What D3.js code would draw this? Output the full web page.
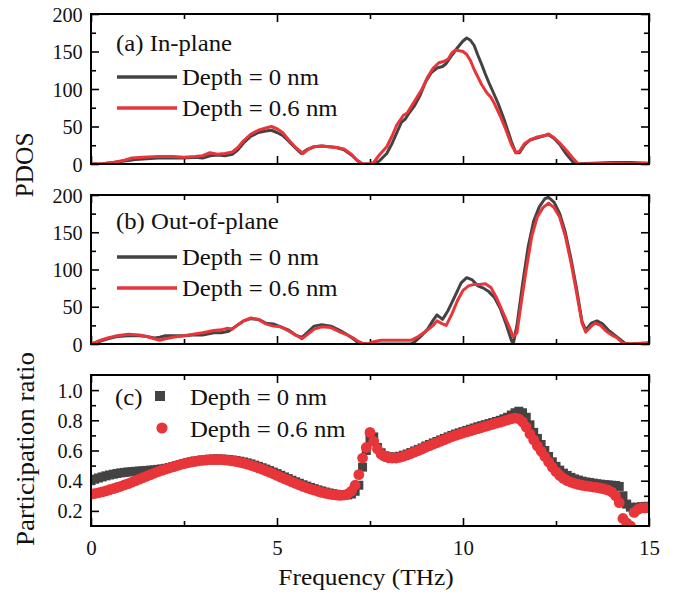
<!DOCTYPE html>
<html>
<head>
<meta charset="utf-8">
<script src="https://cdn.jsdelivr.net/npm/d3@7"></script>
<style>
  body { margin: 0; background: #fff; }
  text { font-family: "Liberation Serif", "Times New Roman", Times, serif; }
</style>
</head>
<body>
<div id="chart"></div>
<script>
// PDOS (a) in-plane: [frequency THz, PDOS]
const inPlane0 = [[0,0],[0.3,0.5],[0.6,2],[0.9,4],[1.2,6],[1.5,7],[1.8,8],[2.2,8],[2.5,8],[2.8,9],[3.0,8],[3.2,11],[3.4,12],[3.6,11],[3.8,13],[3.95,19],[4.1,28],[4.3,37],[4.5,42],[4.7,44],[4.85,45],[5.0,42],[5.15,38],[5.3,31],[5.5,21],[5.65,14],[5.8,19],[6.0,23],[6.2,24],[6.4,23],[6.6,22],[6.8,19],[7.0,12],[7.15,5],[7.3,0],[7.6,0],[7.75,4],[7.95,14],[8.1,28],[8.25,45],[8.35,56],[8.45,60],[8.55,68],[8.7,78],[8.85,92],[9.0,110],[9.15,122],[9.3,128],[9.45,130],[9.55,134],[9.7,145],[9.85,155],[10.0,164],[10.1,168],[10.2,165],[10.3,158],[10.4,145],[10.5,133],[10.6,120],[10.7,108],[10.8,97],[10.95,80],[11.1,60],[11.2,45],[11.3,30],[11.42,15],[11.52,15],[11.65,25],[11.8,32],[12.0,35],[12.2,38],[12.3,39],[12.45,34],[12.6,26],[12.75,15],[12.9,6],[13.0,0],[13.5,1],[14.0,2],[14.5,2],[15.0,1]];
const inPlane06 = [[0,0],[0.3,0.5],[0.6,2],[0.9,5],[1.1,8],[1.4,9],[1.8,10],[2.2,10],[2.5,9],[2.8,10],[3.0,11],[3.2,15],[3.4,13],[3.6,14],[3.8,16],[3.95,22],[4.1,31],[4.3,40],[4.5,45],[4.7,48],[4.85,50],[5.0,47],[5.15,42],[5.3,33],[5.5,22],[5.7,14],[5.85,20],[6.0,23],[6.2,24],[6.4,23],[6.6,22],[6.8,20],[7.0,13],[7.15,5],[7.3,0],[7.5,0],[7.6,2],[7.75,12],[7.95,23],[8.1,38],[8.22,52],[8.3,58],[8.4,65],[8.5,68],[8.6,76],[8.75,88],[8.9,100],[9.05,116],[9.2,128],[9.35,135],[9.5,137],[9.6,140],[9.7,148],[9.8,152],[9.9,151],[10.0,150],[10.1,146],[10.2,138],[10.3,126],[10.4,116],[10.5,106],[10.64,95],[10.75,89],[10.85,80],[11.0,64],[11.15,46],[11.3,26],[11.42,15],[11.52,17],[11.65,27],[11.8,32],[12.0,36],[12.2,38],[12.3,40],[12.45,35],[12.6,28],[12.8,17],[12.95,8],[13.1,0],[13.5,0.5],[14.0,1],[14.5,0.5],[15.0,1]];

// PDOS (b) out-of-plane
const outPlane0 = [[0,0],[0.2,3],[0.45,7],[0.7,10],[1.0,11],[1.3,11],[1.5,10],[1.7,8],[1.85,9],[2.0,11],[2.2,11],[2.5,11],[2.75,12],[3.0,12],[3.3,15],[3.5,15],[3.7,17],[3.9,24],[4.1,31],[4.3,34],[4.5,33],[4.7,28],[4.9,27],[5.1,23],[5.3,19],[5.5,12],[5.67,9],[5.85,17],[6.0,24],[6.2,26],[6.45,24],[6.7,18],[6.9,12],[7.05,7],[7.2,1],[7.3,0],[8.6,0],[8.7,3],[8.9,12],[9.05,20],[9.2,32],[9.3,39],[9.45,33],[9.6,45],[9.8,66],[9.95,82],[10.1,89],[10.25,86],[10.4,78],[10.55,75],[10.7,70],[10.85,62],[11.0,48],[11.15,28],[11.3,5],[11.35,0],[11.45,25],[11.6,80],[11.75,130],[11.9,165],[12.05,184],[12.2,195],[12.3,197],[12.45,190],[12.6,175],[12.75,150],[12.9,115],[13.05,75],[13.2,30],[13.3,19],[13.45,28],[13.6,31],[13.75,27],[13.9,19],[14.05,13],[14.2,7],[14.35,1],[14.5,0],[14.8,1],[15.0,0]];
const outPlane06 = [[0,0],[0.2,4],[0.45,8],[0.7,11],[1.0,13],[1.3,12],[1.5,10],[1.7,7],[1.85,5],[2.0,7],[2.2,9],[2.5,11],[2.75,13],[3.0,15],[3.3,18],[3.5,19],[3.65,21],[3.8,20],[3.95,26],[4.1,31],[4.3,35],[4.5,33],[4.7,27],[4.9,24],[5.1,23],[5.3,18],[5.5,12],[5.67,7],[5.85,14],[6.0,20],[6.2,23],[6.45,22],[6.7,16],[6.9,12],[7.05,8],[7.2,3],[7.3,1],[7.45,0],[7.6,3],[7.8,5],[8.1,5],[8.4,5],[8.6,5],[8.8,10],[9.0,17],[9.2,25],[9.3,31],[9.45,27],[9.55,25],[9.7,40],[9.85,58],[10.0,72],[10.15,78],[10.3,80],[10.45,80],[10.6,81],[10.75,76],[10.9,62],[11.05,45],[11.2,28],[11.35,10],[11.45,15],[11.55,50],[11.7,100],[11.85,145],[12.0,171],[12.15,183],[12.3,189],[12.45,183],[12.6,170],[12.75,145],[12.9,110],[13.05,70],[13.2,28],[13.3,16],[13.45,24],[13.55,28],[13.7,25],[13.85,17],[14.0,12],[14.15,8],[14.3,1],[14.5,0],[14.8,1],[15.0,2]];

// (c) participation ratio, sampled every 0.1 THz from 0 to 15
const prFreq = d3.range(151).map(i => i / 10);
const pr0 = [
  0.40,0.41,0.418,0.425,0.432,0.438,0.443,0.448,0.452,0.455,
  0.458,0.46,0.462,0.464,0.466,0.468,0.47,0.472,0.475,0.478,
  0.482,0.487,0.493,0.50,0.507,0.514,0.52,0.525,0.53,0.534,
  0.537,0.54,0.542,0.543,0.544,0.543,0.542,0.54,0.537,0.533,
  0.529,0.524,0.518,0.511,0.503,0.495,0.486,0.477,0.467,0.457,
  0.447,0.436,0.425,0.414,0.403,0.393,0.383,0.373,0.364,0.355,
  0.347,0.339,0.332,0.325,0.319,0.314,0.31,0.307,0.305,0.306,
  0.312,0.33,0.37,0.49,0.60,0.68,0.69,0.62,0.585,0.565,
  0.558,0.556,0.557,0.562,0.569,0.577,0.587,0.597,0.607,0.617,
  0.63,0.64,0.65,0.66,0.67,0.68,0.69,0.70,0.709,0.717,
  0.725,0.733,0.741,0.749,0.757,0.764,0.771,0.778,0.785,0.792,
  0.80,0.81,0.82,0.835,0.85,0.86,0.85,0.82,0.77,0.72,
  0.68,0.64,0.60,0.56,0.525,0.495,0.47,0.45,0.435,0.422,
  0.412,0.404,0.397,0.392,0.388,0.384,0.38,0.377,0.374,0.372,
  0.37,0.368,0.362,0.30,0.245,0.225,0.222,0.225,0.228,0.23,
  0.23];
const pr06 = [
  0.31,0.315,0.32,0.326,0.332,0.34,0.347,0.355,0.363,0.372,
  0.38,0.39,0.40,0.41,0.42,0.43,0.44,0.45,0.46,0.468,
  0.476,0.484,0.492,0.50,0.507,0.513,0.519,0.524,0.528,0.532,
  0.535,0.537,0.539,0.54,0.54,0.539,0.537,0.535,0.531,0.527,
  0.522,0.516,0.51,0.502,0.494,0.485,0.476,0.466,0.456,0.446,
  0.435,0.424,0.413,0.403,0.392,0.382,0.372,0.362,0.353,0.345,
  0.337,0.33,0.323,0.317,0.312,0.308,0.305,0.303,0.305,0.312,
  0.33,0.37,0.44,0.55,0.62,0.72,0.66,0.61,0.575,0.56,
  0.552,0.55,0.55,0.555,0.562,0.57,0.58,0.59,0.60,0.61,
  0.622,0.632,0.642,0.652,0.662,0.672,0.682,0.692,0.70,0.708,
  0.716,0.723,0.73,0.738,0.745,0.752,0.76,0.767,0.774,0.781,
  0.788,0.795,0.803,0.81,0.815,0.81,0.79,0.755,0.71,0.67,
  0.63,0.595,0.56,0.525,0.49,0.46,0.435,0.415,0.40,0.39,
  0.382,0.375,0.37,0.366,0.362,0.358,0.355,0.35,0.345,0.338,
  0.325,0.30,0.255,0.15,0.12,0.10,0.19,0.21,0.22,0.22,
  0.22];

const xMajor = [0, 5, 10, 15];
const xMinor = [2.5, 7.5, 12.5];
const pdosMajor = [0, 50, 100, 150, 200];
const pdosMinor = [25, 75, 125, 175];
const prMajor = [0.2, 0.4, 0.6, 0.8, 1.0];
const prMinor = [0.3, 0.5, 0.7, 0.9];
const seriesNames = ['Depth = 0 nm', 'Depth = 0.6 nm'];

const GRAY = '#434343';
const RED = '#e8353a';
const FONT = '"Liberation Serif", "Times New Roman", Times, serif';
const width = 684, height = 596;

const svg = d3.select('#chart').append('svg')
  .attr('width', width)
  .attr('height', height)
  .attr('font-family', FONT);

const x = d3.scaleLinear().domain([0, 15]).range([91, 649]);

const panels = [
  { id: 'a', y: d3.scaleLinear().domain([0, 200]).range([164, 14]), major: pdosMajor, minor: pdosMinor, fmt: d3.format('d') },
  { id: 'b', y: d3.scaleLinear().domain([0, 200]).range([344, 195]), major: pdosMajor, minor: pdosMinor, fmt: d3.format('d') },
  { id: 'c', y: d3.scaleLinear().domain([0.1, 1.1]).range([526, 375]), major: prMajor, minor: prMinor, fmt: d3.format('.1f') }
];

// text helper with a horizontal stretch factor
function label(parent, tx, ty, str, size, anchor, sx) {
  return parent.append('text')
    .attr('transform', `translate(${tx},${ty}) scale(${sx || 1},1)`)
    .attr('text-anchor', anchor || 'start')
    .attr('font-family', FONT)
    .attr('font-size', size)
    .attr('fill', '#111')
    .text(str);
}

function styleAxis(g) {
  g.select('.domain').remove();
  g.selectAll('line').attr('stroke', '#000').attr('stroke-width', 1.6);
  g.attr('font-family', FONT).attr('font-size', null);
}

panels.forEach(p => {
  const y = p.y;
  const [yb, yt] = y.range();
  const g = svg.append('g');

  // inward ticks on all four sides
  const bottom = g.append('g').attr('transform', `translate(0,${yb})`)
    .call(d3.axisBottom(x).tickValues(xMajor).tickSize(-8).tickPadding(13)
      .tickFormat(p.id === 'c' ? d3.format('d') : ''));
  g.append('g').attr('transform', `translate(0,${yb})`)
    .call(d3.axisBottom(x).tickValues(xMinor).tickSize(-5).tickFormat(''));
  g.append('g').attr('transform', `translate(0,${yt})`)
    .call(d3.axisTop(x).tickValues(xMajor).tickSize(-8).tickFormat(''));
  g.append('g').attr('transform', `translate(0,${yt})`)
    .call(d3.axisTop(x).tickValues(xMinor).tickSize(-5).tickFormat(''));
  const left = g.append('g').attr('transform', `translate(${x.range()[0]},0)`)
    .call(d3.axisLeft(y).tickValues(p.major).tickSize(-8).tickPadding(9).tickFormat(p.fmt));
  g.append('g').attr('transform', `translate(${x.range()[0]},0)`)
    .call(d3.axisLeft(y).tickValues(p.minor).tickSize(-5).tickFormat(''));
  g.append('g').attr('transform', `translate(${x.range()[1]},0)`)
    .call(d3.axisRight(y).tickValues(p.major).tickSize(-8).tickFormat(''));
  g.append('g').attr('transform', `translate(${x.range()[1]},0)`)
    .call(d3.axisRight(y).tickValues(p.minor).tickSize(-5).tickFormat(''));
  g.selectAll('g').each(function() { styleAxis(d3.select(this)); });

  bottom.selectAll('text').attr('font-size', 22).attr('fill', '#111')
    .attr('font-family', FONT).attr('transform', 'scale(0.95,1)');
  left.selectAll('text').attr('font-size', 22).attr('fill', '#111')
    .attr('font-family', FONT).attr('transform', 'scale(0.92,1)');

  // clip to plot box
  svg.append('clipPath').attr('id', 'clip-' + p.id)
    .append('rect')
    .attr('x', x.range()[0]).attr('y', yt)
    .attr('width', x.range()[1] - x.range()[0]).attr('height', yb - yt);
  p.plot = svg.append('g').attr('clip-path', `url(#clip-${p.id})`);
});

// (a) and (b) lines
const line = d3.line();
[[panels[0], inPlane0, inPlane06], [panels[1], outPlane0, outPlane06]].forEach(([p, s0, s06]) => {
  const ln = line.x(d => x(d[0])).y(d => p.y(d[1]));
  p.plot.append('path').datum(s0).attr('d', ln)
    .attr('fill', 'none').attr('stroke', GRAY).attr('stroke-width', 3).attr('stroke-linejoin', 'round');
  p.plot.append('path').datum(s06).attr('d', ln)
    .attr('fill', 'none').attr('stroke', RED).attr('stroke-width', 3).attr('stroke-linejoin', 'round');
});

// (c) scatter
const pc = panels[2];
const sq = 9;
pc.plot.selectAll('rect.pr0')
  .data(prFreq.map((f, i) => [f, pr0[i]]))
  .enter().append('rect')
  .attr('class', 'pr0')
  .attr('x', d => x(d[0]) - sq / 2)
  .attr('y', d => pc.y(d[1]) - sq / 2)
  .attr('width', sq).attr('height', sq)
  .attr('fill', GRAY);
pc.plot.selectAll('circle.pr06')
  .data(prFreq.map((f, i) => [f, pr06[i]]))
  .enter().append('circle')
  .attr('class', 'pr06')
  .attr('cx', d => x(d[0]))
  .attr('cy', d => pc.y(d[1]))
  .attr('r', 5.4)
  .attr('fill', RED);

// frames on top
panels.forEach(p => {
  const [yb, yt] = p.y.range();
  svg.append('rect')
    .attr('x', x.range()[0]).attr('y', yt)
    .attr('width', x.range()[1] - x.range()[0]).attr('height', yb - yt)
    .attr('fill', 'none').attr('stroke', '#000').attr('stroke-width', 2);
});

// legends
const legendLines = [
  { title: '(a) In-plane', ty: 51, rows: [77, 108] },
  { title: '(b) Out-of-plane', ty: 229, rows: [257, 288] }
];
legendLines.forEach(l => {
  label(svg, 116, l.ty, l.title, 22.5, 'start', 1.1);
  l.rows.forEach((ry, k) => {
    svg.append('line')
      .attr('x1', 117).attr('x2', 177).attr('y1', ry).attr('y2', ry)
      .attr('stroke', k === 0 ? GRAY : RED).attr('stroke-width', 3.5);
    label(svg, 182, ry + 8, seriesNames[k], 22.5, 'start', 1.1);
  });
});

label(svg, 115, 405, '(c)', 22.5, 'start', 1.1);
svg.append('rect').attr('x', 155).attr('y', 391).attr('width', 10).attr('height', 10).attr('fill', GRAY);
label(svg, 190, 405, seriesNames[0], 22.5, 'start', 1.1);
svg.append('circle').attr('cx', 162).attr('cy', 428).attr('r', 5.6).attr('fill', RED);
label(svg, 190, 437, seriesNames[1], 22.5, 'start', 1.1);

// axis titles
label(svg, 366, 585, 'Frequency (THz)', 23.5, 'middle', 1.08);
svg.append('text')
  .attr('transform', 'translate(33,165) rotate(-90) scale(1.04,1)')
  .attr('text-anchor', 'middle')
  .attr('font-family', FONT)
  .attr('font-size', 24.5)
  .attr('fill', '#111')
  .text('PDOS');
svg.append('text')
  .attr('transform', 'translate(34,449) rotate(-90) scale(1.1,1)')
  .attr('text-anchor', 'middle')
  .attr('font-family', FONT)
  .attr('font-size', 24.5)
  .attr('fill', '#111')
  .text('Participation ratio');
</script>
</body>
</html>
